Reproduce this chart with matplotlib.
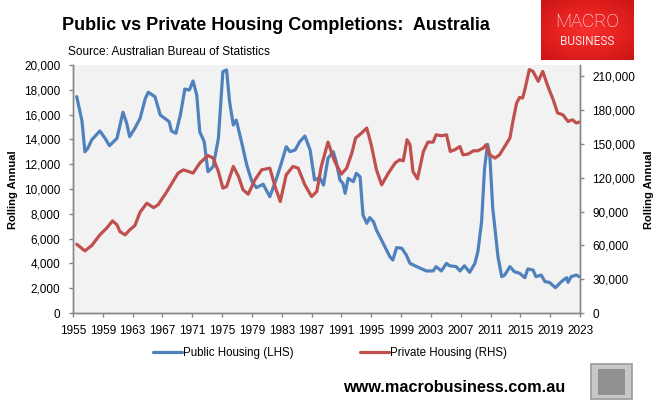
import numpy as np
import matplotlib.pyplot as plt
from matplotlib.patches import Rectangle
from matplotlib.ticker import FuncFormatter

# Public housing completions (LHS), rolling annual
pub_years = [1955.5, 1956.2, 1956.6, 1957.0, 1957.5, 1958.6, 1959.3, 1959.9, 1960.9, 1961.7,
             1962.2, 1962.6, 1963.3, 1964.0, 1964.7, 1965.1, 1966.0, 1966.7, 1967.3, 1967.9,
             1968.2, 1968.8, 1969.4, 1970.0, 1970.6, 1971.1, 1971.6, 1972.0, 1972.6, 1973.1,
             1973.8, 1974.5, 1975.1, 1975.6, 1976.0, 1976.5, 1976.9, 1977.6, 1978.3, 1979.0,
             1979.6, 1980.5, 1981.4, 1982.3, 1983.0, 1983.6, 1984.1, 1984.8, 1985.4, 1986.1,
             1986.8, 1987.4, 1988.1, 1988.6, 1989.2, 1989.9, 1990.3, 1990.8, 1991.2, 1991.5,
             1991.9, 1992.6, 1993.0, 1993.5, 1993.9, 1994.4, 1994.8, 1995.3, 1995.7, 1996.6,
             1997.5, 1997.9, 1998.4, 1999.1, 1999.7, 2000.2, 2001.1, 2002.4, 2003.3, 2003.7,
             2004.4, 2005.1, 2005.5, 2006.4, 2006.9, 2007.5, 2008.2, 2008.9, 2009.3, 2009.8,
             2010.2, 2010.6, 2010.9, 2011.3, 2012.0, 2012.5, 2012.9, 2013.6, 2014.2, 2014.9,
             2015.6, 2016.0, 2016.7, 2017.1, 2017.8, 2018.3, 2018.9, 2019.7, 2020.5, 2021.2,
             2021.4, 2021.8, 2022.5, 2022.9]
pub_values = [17450, 15500, 13000, 13300, 13950, 14680, 14090, 13490, 14090, 16190,
              15300, 14220, 14900, 15700, 17300, 17800, 17440, 15970, 15700, 15430,
              14680, 14490, 15970, 18060, 17980, 18710, 17580, 14620, 13810, 11390,
              11800, 14090, 19460, 19600, 17040, 15160, 15560, 13810, 11940, 10590,
              10110, 10380, 9380, 10860, 12200, 13410, 13010, 13150, 13810, 14270,
              13150, 10730, 10910, 10320, 12480, 13010, 12200, 10730, 10460, 9650,
              10860, 10590, 11270, 10990, 7900, 7230, 7690, 7360, 6690, 5620,
              4540, 4270, 5270, 5220, 4680, 4000, 3740, 3390, 3390, 3740,
              3390, 4000, 3810, 3740, 3390, 3810, 3280, 4000, 4940, 7360,
              11670, 13600, 12740, 8440, 4540, 2930, 3060, 3740, 3330, 3200,
              2850, 3550, 3470, 2930, 3060, 2530, 2470, 2040, 2530, 2850,
              2470, 2930, 3060, 2930]

# Private housing completions (RHS), rolling annual
prv_years = [1955.5, 1956.6, 1957.5, 1958.6, 1959.5, 1960.3, 1960.9, 1961.3, 1962.0, 1962.6,
             1963.3, 1964.0, 1964.9, 1965.8, 1966.4, 1967.6, 1968.4, 1969.1, 1969.8, 1970.5,
             1971.1, 1972.0, 1973.1, 1973.8, 1974.5, 1975.1, 1975.6, 1976.5, 1977.2, 1977.8,
             1978.5, 1979.4, 1980.3, 1981.4, 1982.1, 1982.8, 1983.6, 1984.5, 1985.2, 1986.1,
             1987.0, 1987.7, 1988.3, 1989.2, 1990.1, 1991.0, 1991.7, 1992.4, 1992.9, 1993.7,
             1994.4, 1995.0, 1995.7, 1996.4, 1997.3, 1998.2, 1998.8, 1999.3, 1999.8, 2000.2,
             2000.6, 2001.2, 2002.0, 2002.6, 2003.3, 2003.7, 2004.4, 2005.1, 2005.6, 2006.2,
             2006.9, 2007.3, 2008.0, 2008.7, 2009.3, 2010.0, 2010.4, 2010.9, 2011.6, 2012.2,
             2012.9, 2013.6, 2014.0, 2014.5, 2014.9, 2015.3, 2015.6, 2016.2, 2016.7, 2017.4,
             2018.0, 2018.7, 2019.4, 2020.0, 2020.7, 2021.4, 2022.0, 2022.5, 2022.9]
prv_values = [61000, 55100, 59800, 69300, 75200, 81700, 78200, 72200, 69300, 73700,
              77600, 89500, 97400, 93500, 95900, 107800, 116600, 124100, 127000, 125500,
              124100, 133000, 139700, 137400, 125500, 110800, 112200, 130000, 121100, 109300,
              105400, 118100, 127000, 128500, 112200, 98900, 122600, 130000, 128500, 113700,
              103300, 107800, 130000, 151600, 134400, 123200, 128500, 141900, 155200, 159600,
              164100, 149200, 127000, 113700, 124100, 133000, 135900, 135000, 153700, 149200,
              125500, 119000, 143300, 151600, 151600, 158100, 157200, 158100, 143300, 144800,
              147700, 140300, 141000, 143900, 143900, 146300, 149200, 140300, 137400, 140300,
              147700, 155200, 169900, 186300, 191300, 190700, 198100, 215900, 214300, 205500,
              214300, 201000, 189200, 177400, 175900, 169900, 171400, 168500, 169400]

year_ticks = list(range(1955, 2024, 4))
lhs_ticks = list(range(0, 20001, 2000))
rhs_ticks = list(range(0, 210001, 30000))

BLUE = '#4F81BD'
RED = '#C0504D'
GREY = '#868686'

plt.rcParams['font.family'] = 'Liberation Sans'

fig = plt.figure(figsize=(6.64, 4.07), dpi=100)
W, H = 664, 407


def fx(px):
    return px / W


def fy(py):
    return 1 - py / H


ax = fig.add_axes([fx(73), fy(313), fx(580) - fx(73), fy(65) - fy(313)])
ax.set_facecolor('#F2F2F2')
l1, = ax.plot(pub_years, pub_values, color=BLUE, lw=2.3, solid_joinstyle='round',
              solid_capstyle='round', label='Public Housing (LHS)')
ax.set_xlim(1955, 2023)
ax.set_ylim(0, 20000)
ax.set_xticks(year_ticks)
ax.set_yticks(lhs_ticks)
ax.yaxis.set_major_formatter(FuncFormatter(lambda v, p: f'{int(v):,}'))

ax2 = ax.twinx()
l2, = ax2.plot(prv_years, prv_values, color=RED, lw=2.3, solid_joinstyle='round',
               solid_capstyle='round', label='Private Housing (RHS)')
ax2.set_ylim(0, 220000)
ax2.set_yticks(rhs_ticks)
ax2.yaxis.set_major_formatter(FuncFormatter(lambda v, p: f'{int(v):,}'))

for a in (ax, ax2):
    a.spines['top'].set_visible(False)
    for s in ('left', 'right', 'bottom'):
        a.spines[s].set_color(GREY)
        a.spines[s].set_linewidth(1.0)
    a.tick_params(axis='both', colors=GREY, labelcolor='black', labelsize=8.5,
                  length=3, width=1.0, direction='out', pad=6)

# axis titles
fig.text(fx(13), fy(190), 'Rolling Annual', rotation=90, fontsize=8, fontweight='bold',
         ha='center', va='center')
fig.text(fx(649), fy(190), 'Rolling Annual', rotation=90, fontsize=8, fontweight='bold',
         ha='center', va='center')

# Title and source
fig.text(fx(62), fy(26), 'Public vs Private Housing Completions:  Australia',
         fontsize=13, fontweight='bold', ha='left', va='center')
fig.text(fx(68), fy(52), 'Source: Australian Bureau of Statistics',
         fontsize=8.6, ha='left', va='center')

# Legend
fig.legend(handles=[l1, l2], loc='center left', bbox_to_anchor=(fx(153), fy(353)),
           ncol=2, frameon=False, fontsize=8.3, handlelength=2.5, handletextpad=0.1,
           columnspacing=5.8, borderpad=0, borderaxespad=0)

# Logo
logo = fig.add_axes([fx(541), fy(60), fx(634) - fx(541), fy(0) - fy(60)])
logo.set_xticks([])
logo.set_yticks([])
for s in logo.spines.values():
    s.set_visible(False)
gx, gy = np.meshgrid(np.linspace(-1, 1, 60), np.linspace(-1, 1, 40))
shade = np.sqrt(gx ** 2 + gy ** 2)
logo.imshow(shade, cmap=plt.matplotlib.colors.LinearSegmentedColormap.from_list(
    'logo', ['#F8302F', '#E52220', '#C81414']), extent=(0, 1, 0, 1), aspect='auto',
    vmin=0, vmax=1.45)
logo.set_xlim(0, 1)
logo.set_ylim(0, 1)
logo.text(0.5, 0.63, 'MACRO', color='white', fontsize=13.4, family='Roboto',
          fontweight='light', ha='center', va='center')
logo.text(0.5, 0.31, 'BUSINESS', color='#FBE3E3', fontsize=8.6, family='Roboto',
          ha='center', va='center')

# Footer
fig.text(fx(343), fy(388), 'www.macrobusiness.com.au', fontsize=11.7, fontweight='bold',
         ha='left', va='center')
fig.patches.append(Rectangle((fx(591), fy(399)), fx(632) - fx(591), fy(364) - fy(399),
                             transform=fig.transFigure, facecolor='#C8C8C8',
                             edgecolor='#9A9A9A', linewidth=1.2))
fig.patches.append(Rectangle((fx(598), fy(395)), fx(625) - fx(598), fy(369) - fy(395),
                             transform=fig.transFigure, facecolor='#909090',
                             edgecolor='none'))

fig.savefig('out.png', dpi=100)
